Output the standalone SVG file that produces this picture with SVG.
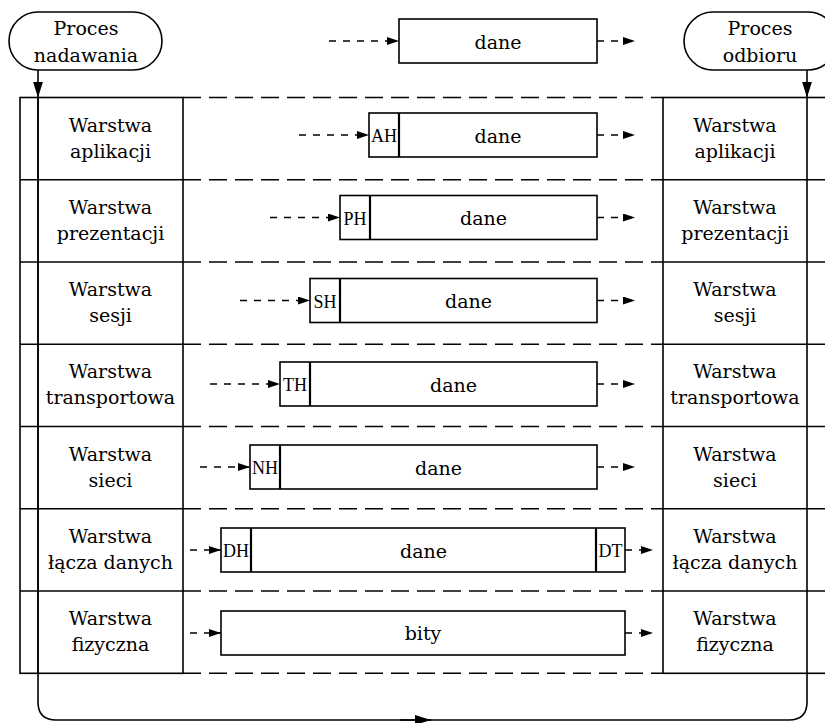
<svg xmlns="http://www.w3.org/2000/svg" width="825" height="723" viewBox="0 0 825 723">
<style>
.lbl{font-family:"DejaVu Serif","Liberation Serif",serif;font-size:19px;fill:#000;text-anchor:middle}
.hdr{font-family:"Liberation Serif",serif;font-size:18px;fill:#000;text-anchor:middle}
.box{fill:#fff;stroke:#000;stroke-width:1.6}
.sep{stroke:#000;stroke-width:2.2}
.row{stroke:#000;stroke-width:1.6;fill:none}
.dl{stroke:#000;stroke-width:1.6;stroke-dasharray:18 8;fill:none}
.da{stroke:#000;stroke-width:1.4;stroke-dasharray:7 7;fill:none;marker-end:url(#sa)}
.ln{stroke:#000;stroke-width:1.6;fill:none}
</style>
<defs>
<marker id="sa" markerUnits="userSpaceOnUse" markerWidth="13" markerHeight="9" refX="12" refY="4" orient="auto"><path d="M0,0 L12,4 L0,8 z" fill="#000"/></marker>
<marker id="ba" markerUnits="userSpaceOnUse" markerWidth="17" markerHeight="11" refX="16" refY="5" orient="auto"><path d="M0,0 L16,5 L0,10 z" fill="#000"/></marker>
</defs>
<rect width="825" height="723" fill="#fff"/>

<g id="dashed-rows">
<path class="dl" d="M183,97.5H663M183,179.7H663M183,262H663M183,344.3H663M183,426.5H663M183,508.8H663M183,591H663M183,673.3H663"/>
</g>

<g id="connectors">
<path class="ln" d="M38,97.5 V702 Q38,720 56,720 H789 Q807,720 807,702 V97.5"/>
<line class="ln" x1="38" y1="70" x2="38" y2="97.5" marker-end="url(#ba)"/>
<line class="ln" x1="807" y1="70" x2="807" y2="97.5" marker-end="url(#ba)"/>
<line class="ln" x1="400" y1="720" x2="431" y2="720" marker-end="url(#ba)"/>
<line class="da" x1="329" y1="41" x2="399" y2="41"/>
<line class="da" x1="597" y1="41" x2="635" y2="41"/>
<line class="da" x1="299" y1="135" x2="369" y2="135"/>
<line class="da" x1="597" y1="135" x2="635" y2="135"/>
<line class="da" x1="270" y1="217.5" x2="340" y2="217.5"/>
<line class="da" x1="597" y1="217.5" x2="635" y2="217.5"/>
<line class="da" x1="240" y1="300.5" x2="310" y2="300.5"/>
<line class="da" x1="597" y1="300.5" x2="635" y2="300.5"/>
<line class="da" x1="210" y1="384" x2="280" y2="384"/>
<line class="da" x1="597" y1="384" x2="635" y2="384"/>
<line class="da" x1="200" y1="467" x2="250" y2="467"/>
<line class="da" x1="597" y1="467" x2="635" y2="467"/>
<line class="da" x1="190" y1="550" x2="221" y2="550"/>
<line class="da" x1="625" y1="550" x2="653" y2="550"/>
<line class="da" x1="190" y1="633" x2="221" y2="633"/>
<line class="da" x1="625" y1="633" x2="653" y2="633"/>
</g>

<g id="proces-nadawania">
<rect class="box" x="9" y="12" width="153" height="58" rx="29" ry="29"/>
<text class="lbl" x="86" y="35">Proces</text>
<text class="lbl" x="86" y="62">nadawania</text>
</g>
<g id="proces-odbioru">
<rect class="box" x="684" y="12" width="153" height="58" rx="29" ry="29"/>
<text class="lbl" x="760" y="35">Proces</text>
<text class="lbl" x="760" y="62">odbioru</text>
</g>

<g id="stos-nadawczy">
<rect class="row" x="20" y="97.5" width="163" height="575.8"/>
<path class="row" d="M20,179.7H183M20,262H183M20,344.3H183M20,426.5H183M20,508.8H183M20,591H183"/>
<line class="ln" x1="38" y1="97.5" x2="38" y2="673.3"/>
<text class="lbl" x="110.5" y="131.5">Warstwa</text><text class="lbl" x="110.5" y="157.5">aplikacji</text>
<text class="lbl" x="110.5" y="213.7">Warstwa</text><text class="lbl" x="110.5" y="239.7">prezentacji</text>
<text class="lbl" x="110.5" y="296">Warstwa</text><text class="lbl" x="110.5" y="322">sesji</text>
<text class="lbl" x="110.5" y="378.3">Warstwa</text><text class="lbl" x="110.5" y="404.3">transportowa</text>
<text class="lbl" x="110.5" y="460.5">Warstwa</text><text class="lbl" x="110.5" y="486.5">sieci</text>
<text class="lbl" x="110.5" y="542.8">Warstwa</text><text class="lbl" x="110.5" y="568.8">łącza danych</text>
<text class="lbl" x="110.5" y="625">Warstwa</text><text class="lbl" x="110.5" y="651">fizyczna</text>
</g>

<g id="stos-odbiorczy">
<rect class="row" x="663" y="97.5" width="175" height="575.8"/>
<path class="row" d="M663,179.7H830M663,262H830M663,344.3H830M663,426.5H830M663,508.8H830M663,591H830"/>
<text class="lbl" x="735" y="131.5">Warstwa</text><text class="lbl" x="735" y="157.5">aplikacji</text>
<text class="lbl" x="735" y="213.7">Warstwa</text><text class="lbl" x="735" y="239.7">prezentacji</text>
<text class="lbl" x="735" y="296">Warstwa</text><text class="lbl" x="735" y="322">sesji</text>
<text class="lbl" x="735" y="378.3">Warstwa</text><text class="lbl" x="735" y="404.3">transportowa</text>
<text class="lbl" x="735" y="460.5">Warstwa</text><text class="lbl" x="735" y="486.5">sieci</text>
<text class="lbl" x="735" y="542.8">Warstwa</text><text class="lbl" x="735" y="568.8">łącza danych</text>
<text class="lbl" x="735" y="625">Warstwa</text><text class="lbl" x="735" y="651">fizyczna</text>
</g>

<g id="pakiet-dane">
<rect class="box" x="399" y="19" width="198" height="44"/>
<text class="lbl" x="498" y="48.5">dane</text>
</g>
<g id="pakiet-aplikacji">
<rect class="box" x="369" y="113" width="228" height="44"/>
<line class="sep" x1="399" y1="113" x2="399" y2="157"/>
<text class="hdr" x="384" y="142">AH</text>
<text class="lbl" x="498" y="142.5">dane</text>
</g>
<g id="pakiet-prezentacji">
<rect class="box" x="340" y="195.5" width="257" height="44"/>
<line class="sep" x1="370" y1="195.5" x2="370" y2="239.5"/>
<text class="hdr" x="355" y="224.5">PH</text>
<text class="lbl" x="483.5" y="225">dane</text>
</g>
<g id="pakiet-sesji">
<rect class="box" x="310" y="278.5" width="287" height="44"/>
<line class="sep" x1="340" y1="278.5" x2="340" y2="322.5"/>
<text class="hdr" x="325" y="307.5">SH</text>
<text class="lbl" x="468.5" y="308">dane</text>
</g>
<g id="pakiet-transportowy">
<rect class="box" x="280" y="362" width="317" height="44"/>
<line class="sep" x1="310" y1="362" x2="310" y2="406"/>
<text class="hdr" x="295" y="391">TH</text>
<text class="lbl" x="453.5" y="391.5">dane</text>
</g>
<g id="pakiet-sieci">
<rect class="box" x="250" y="445" width="347" height="44"/>
<line class="sep" x1="280" y1="445" x2="280" y2="489"/>
<text class="hdr" x="265" y="474">NH</text>
<text class="lbl" x="438.5" y="474.5">dane</text>
</g>
<g id="ramka">
<rect class="box" x="221" y="528" width="404" height="44"/>
<line class="sep" x1="251" y1="528" x2="251" y2="572"/>
<line class="sep" x1="596" y1="528" x2="596" y2="572"/>
<text class="hdr" x="236" y="557">DH</text>
<text class="lbl" x="423.5" y="557.5">dane</text>
<text class="hdr" x="610.5" y="557">DT</text>
</g>
<g id="bity">
<rect class="box" x="221" y="611" width="404" height="44"/>
<text class="lbl" x="423" y="640">bity</text>
</g>
</svg>
